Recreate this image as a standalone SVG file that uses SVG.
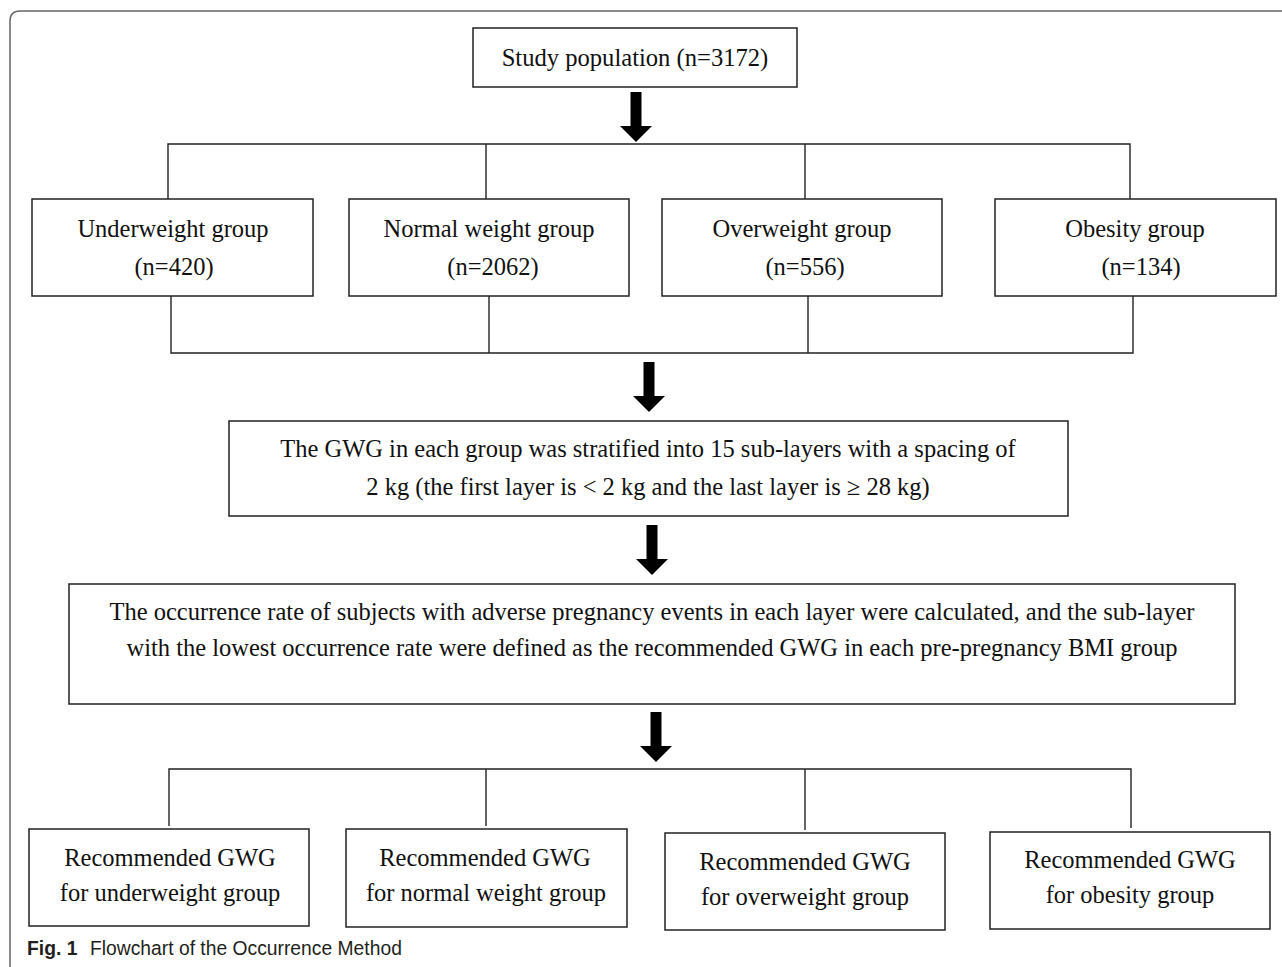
<svg xmlns="http://www.w3.org/2000/svg" width="1282" height="967" viewBox="0 0 1282 967">
<style>
  .box { fill: #ffffff; stroke: #222222; stroke-width: 1.5; }
  .t { font-family: "Liberation Serif", "Times New Roman", serif; font-size: 24.5px; fill: #111111; text-anchor: middle; }
  .conn { fill: none; stroke: #222222; stroke-width: 1.4; }
  .frame { fill: none; stroke: #666666; stroke-width: 1.5; }
  .cap { font-family: "Liberation Sans", Arial, sans-serif; font-size: 19.3px; fill: #231f20; }
</style>
<defs>
  <path id="arrow" d="M -5.5 0 H 5.5 V 34 H 16 L 0 50 L -16 34 H -5.5 Z" fill="#000000"/>
</defs>
<rect x="0" y="0" width="1282" height="967" fill="#ffffff"/>
<path class="frame" d="M 10 967 V 21 Q 10 11 20 11 H 1282"/>

<g id="connectors">
  <path class="conn" d="M 168 199 V 144 H 1130 V 199 M 486 144 V 199 M 805 144 V 199"/>
  <path class="conn" d="M 171 296 V 353 H 1133 V 296 M 489 296 V 353 M 808 296 V 353"/>
  <path class="conn" d="M 169 826 V 769 H 1131 V 828 M 486 769 V 826 M 805 769 V 830"/>
  <use href="#arrow" transform="translate(636,92)"/>
  <use href="#arrow" transform="translate(649,362)"/>
  <use href="#arrow" transform="translate(652,525)"/>
  <use href="#arrow" transform="translate(656,712)"/>
</g>

<g id="study">
  <rect class="box" x="473" y="28" width="324" height="59"/>
  <text class="t" x="635" y="66" style="font-size:24.6px">Study population (n=3172)</text>
</g>

<g id="underweight">
  <rect class="box" x="32" y="199" width="281" height="97"/>
  <text class="t" x="173" y="237">Underweight group</text>
  <text class="t" x="174" y="275">(n=420)</text>
</g>
<g id="normal">
  <rect class="box" x="349" y="199" width="280" height="97"/>
  <text class="t" x="489" y="237">Normal weight group</text>
  <text class="t" x="493" y="275">(n=2062)</text>
</g>
<g id="overweight">
  <rect class="box" x="662" y="199" width="280" height="97"/>
  <text class="t" x="802" y="237">Overweight group</text>
  <text class="t" x="805" y="275">(n=556)</text>
</g>
<g id="obesity">
  <rect class="box" x="995" y="199" width="281" height="97"/>
  <text class="t" x="1135" y="237">Obesity group</text>
  <text class="t" x="1141" y="275">(n=134)</text>
</g>

<g id="stratify">
  <rect class="box" x="229" y="421" width="839" height="95"/>
  <text class="t" x="648" y="457">The GWG in each group was stratified into 15 sub-layers with a spacing of</text>
  <text class="t" x="648" y="495">2 kg (the first layer is &lt; 2 kg and the last layer is ≥ 28 kg)</text>
</g>

<g id="occurrence">
  <rect class="box" x="69" y="584" width="1166" height="120"/>
  <text class="t" x="652" y="620">The occurrence rate of subjects with adverse pregnancy events in each layer were calculated, and the sub-layer</text>
  <text class="t" x="652" y="656">with the lowest occurrence rate were defined as the recommended GWG in each pre-pregnancy BMI group</text>
</g>

<g id="rec-underweight">
  <rect class="box" x="29" y="829" width="280" height="97"/>
  <text class="t" x="170" y="866">Recommended GWG</text>
  <text class="t" x="170" y="901">for underweight group</text>
</g>
<g id="rec-normal">
  <rect class="box" x="346" y="829" width="281" height="98"/>
  <text class="t" x="485" y="866">Recommended GWG</text>
  <text class="t" x="486" y="901">for normal weight group</text>
</g>
<g id="rec-overweight">
  <rect class="box" x="665" y="833" width="280" height="97"/>
  <text class="t" x="805" y="870">Recommended GWG</text>
  <text class="t" x="805" y="905">for overweight group</text>
</g>
<g id="rec-obesity">
  <rect class="box" x="990" y="832" width="280" height="97"/>
  <text class="t" x="1130" y="868">Recommended GWG</text>
  <text class="t" x="1130" y="903">for obesity group</text>
</g>

<g id="caption">
  <text class="cap" x="27" y="955"><tspan font-weight="bold">Fig. 1</tspan><tspan x="90">Flowchart of the Occurrence Method</tspan></text>
</g>
</svg>
